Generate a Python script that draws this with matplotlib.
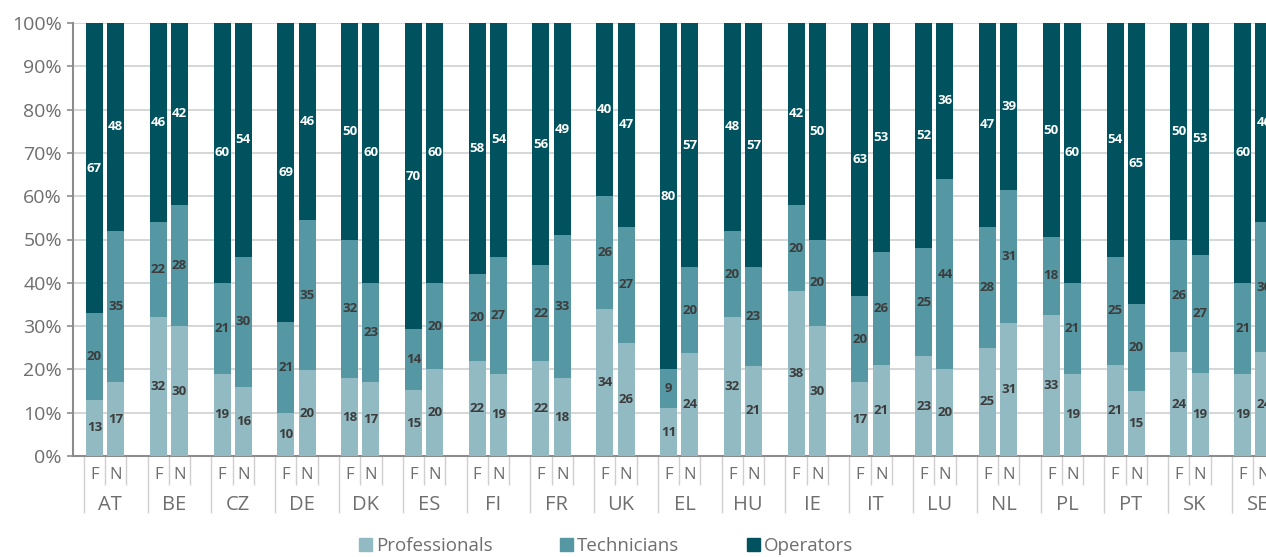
import numpy as np
import matplotlib.pyplot as plt
from matplotlib.patches import Patch
import matplotlib.transforms as mtransforms

plt.rcParams['font.family'] = ['Open Sans', 'DejaVu Sans']

countries = ['AT', 'BE', 'CZ', 'DE', 'DK', 'ES', 'FI', 'FR', 'UK', 'EL',
             'HU', 'IE', 'IT', 'LU', 'NL', 'PL', 'PT', 'SK', 'SE']
sub_labels = ['F', 'N']

# values per country: [F, N]
professionals = [[13, 17], [32, 30], [19, 16], [10, 20], [18, 17], [15, 20],
                 [22, 19], [22, 18], [34, 26], [11, 24], [32, 21], [38, 30],
                 [17, 21], [23, 20], [25, 31], [33, 19], [21, 15], [24, 19],
                 [19, 24]]
technicians = [[20, 35], [22, 28], [21, 30], [21, 35], [32, 23], [14, 20],
               [20, 27], [22, 33], [26, 27], [9, 20], [20, 23], [20, 20],
               [20, 26], [25, 44], [28, 31], [18, 21], [25, 20], [26, 27],
               [21, 30]]
operators = [[67, 48], [46, 42], [60, 54], [69, 46], [50, 60], [70, 60],
             [58, 54], [56, 49], [40, 47], [80, 57], [48, 57], [42, 50],
             [63, 53], [52, 36], [47, 39], [50, 60], [54, 65], [50, 53],
             [60, 46]]

c_prof = '#92bac2'
c_tech = '#5597a2'
c_oper = '#00525e'
grey_txt = '#6e6e6e'

fig = plt.figure(figsize=(12.66, 5.57), dpi=100)
ax = fig.add_axes([73 / 1266, 101 / 557, 1227 / 1266, 433 / 557])

pos = []
p_vals, t_vals, o_vals = [], [], []
for i in range(len(countries)):
    for j in range(2):
        pos.append(3 * i + j)
        p_vals.append(professionals[i][j])
        t_vals.append(technicians[i][j])
        o_vals.append(operators[i][j])
pos = np.array(pos)
p_vals = np.array(p_vals, float)
t_vals = np.array(t_vals, float)
o_vals = np.array(o_vals, float)
tot = p_vals + t_vals + o_vals
p_h = p_vals / tot * 100
t_h = t_vals / tot * 100
o_h = o_vals / tot * 100

w = 0.8
ax.bar(pos, p_h, w, color=c_prof, zorder=3, label='Professionals')
ax.bar(pos, t_h, w, bottom=p_h, color=c_tech, zorder=3, label='Technicians')
ax.bar(pos, o_h, w, bottom=p_h + t_h, color=c_oper, zorder=3, label='Operators')

for k in range(len(pos)):
    ax.text(pos[k], p_h[k] / 2, f'{int(p_vals[k])}', ha='center', va='center',
            fontsize=9.5, fontweight='bold', color='#3c3c3c', zorder=4)
    ax.text(pos[k], p_h[k] + t_h[k] / 2, f'{int(t_vals[k])}', ha='center',
            va='center', fontsize=9.5, fontweight='bold', color='#3c3c3c', zorder=4)
    ax.text(pos[k], p_h[k] + t_h[k] + o_h[k] / 2, f'{int(o_vals[k])}',
            ha='center', va='center', fontsize=9.5, fontweight='bold',
            color='white', zorder=4)

ax.set_xlim(-1.01, 56.7)
ax.set_ylim(0, 100)
ax.set_yticks(np.arange(0, 101, 10))
ax.set_yticklabels([f'{v}%' for v in range(0, 101, 10)])
ax.yaxis.grid(True, color='#d0d0d0', linewidth=1.2, zorder=0)
ax.tick_params(axis='y', colors='#8c8c8c', labelcolor=grey_txt, labelsize=14,
               length=4, width=1.2, pad=4)

for s in ['top', 'right']:
    ax.spines[s].set_visible(False)
for s in ['left', 'bottom']:
    ax.spines[s].set_color('#8c8c8c')
    ax.spines[s].set_linewidth(1.5)

# category separators under the axis
ax.set_xticks([3 * i - 0.5 for i in range(len(countries))])
ax.set_xticks([k - 0.5 for k in range(3 * len(countries)) if k % 3 != 0], minor=True)
ax.tick_params(axis='x', which='major', length=41, width=1, color='#cfcfcf', labelbottom=False)
ax.tick_params(axis='x', which='minor', length=21, width=1, color='#cfcfcf', labelbottom=False)

trans = mtransforms.blended_transform_factory(ax.transData, fig.transFigure)
for i, c in enumerate(countries):
    for j, s in enumerate(sub_labels):
        ax.text(3 * i + j, (557 - 475) / 557, s, transform=trans, ha='center',
                va='center', fontsize=12, color=grey_txt, clip_on=False)
    ax.text(3 * i + 0.75, (557 - 505) / 557, c, transform=trans, ha='center',
            va='center', fontsize=14.5, color=grey_txt, clip_on=False)

handles = [Patch(color=c_prof), Patch(color=c_tech), Patch(color=c_oper)]
fig.legend(handles, ['Professionals', 'Technicians', 'Operators'],
           loc='center', bbox_to_anchor=(606 / 1266, 11 / 557), ncol=3,
           frameon=False, fontsize=13.5, labelcolor=grey_txt,
           handlelength=0.7, handleheight=0.7, handletextpad=0.2,
           columnspacing=3.6)

fig.savefig('out.png', dpi=100)
